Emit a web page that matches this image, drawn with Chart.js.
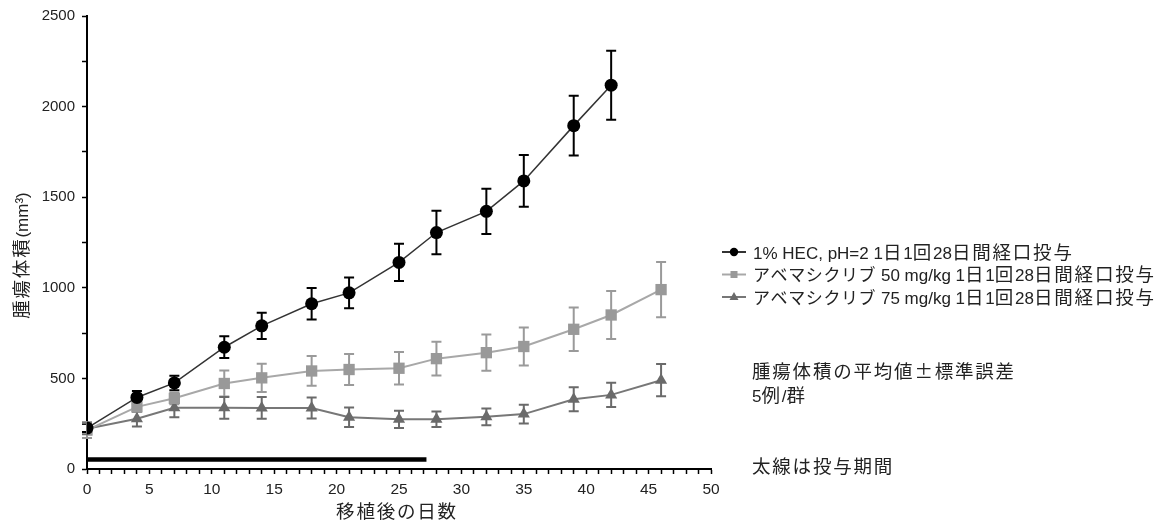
<!DOCTYPE html>
<html>
<head>
<meta charset="utf-8">
<script src="https://cdn.jsdelivr.net/npm/chart.js@4/dist/chart.umd.min.js"></script>
<style>
	html, body { margin: 0; padding: 0; background: #fff; overflow: hidden; }
	#wrap { position: relative; width: 1168px; height: 522px; }
</style>
</head>
<body>
<div id="wrap"><canvas id="tumor" width="1168" height="522"></canvas></div>
<script>
// 移植後の日数
const days = [0, 4, 7, 11, 14, 18, 21, 25, 28, 32, 35, 39, 42, 46];
// 腫瘍体積 平均値 / 標準誤差 (mm3)
const vehicle = [226, 395, 475, 672, 790, 912, 972, 1140, 1305, 1422, 1590, 1895, 2118];
const vehicleSem = [22, 36, 40, 60, 72, 87, 85, 103, 120, 125, 143, 165, 190];
const abema50 = [215, 343, 390, 472, 503, 541, 549, 556, 609, 642, 676, 771, 850, 990];
const abema50Sem = [44, 28, 32, 72, 78, 82, 86, 90, 93, 100, 105, 120, 133, 153];
const abema75 = [222, 277, 338, 338, 337, 337, 286, 274, 275, 288, 303, 385, 409, 490];
const abema75Sem = [30, 42, 52, 60, 60, 58, 54, 48, 43, 46, 52, 66, 67, 89];
// 投与期間 (太線)
const dosingDays = [0, 27.2];
const dosingLevel = 53;

const legendLabels = [
	'1% HEC, pH=2 1日1回28日間経口投与',
	'アベマシクリブ 50 mg/kg 1日1回28日間経口投与',
	'アベマシクリブ 75 mg/kg 1日1回28日間経口投与'
];
const noteLines = ['腫瘍体積の平均値±標準誤差', '5例/群'];
const barNote = '太線は投与期間';
const xTitle = '移植後の日数';
const yTitle = '腫瘍体積(mm³)';

const cjkFamily = '"Noto Sans CJK JP", "Noto Sans", sans-serif';
const latinFamily = '"Liberation Sans", Arial, sans-serif';

function toPoints(xs, ys) {
	return ys.map((y, i) => ({x: xs[i], y: y}));
}

// 文字種ごとにフォントと字間を切り替えて描く
function styleFor(ch) {
	if (/[\u30a0-\u30ff]/.test(ch)) return {font: '17px ' + cjkFamily, sp: 0.6};
	if (/[\u3000-\u309f\u4e00-\u9fff\uff00-\uffef\u00b1]/.test(ch)) return {font: '18.5px ' + cjkFamily, sp: 1.8};
	return {font: '17px ' + latinFamily, sp: 0};
}

function splitRuns(text) {
	const runs = [];
	for (const ch of text) {
		const s = styleFor(ch);
		const last = runs[runs.length - 1];
		if (last && last.font === s.font) last.text += ch;
		else runs.push({font: s.font, sp: s.sp, text: ch});
	}
	return runs;
}

function drawMixed(c, text, x, cy, align) {
	const runs = splitRuns(text);
	let total = 0;
	runs.forEach(function(r) {
		c.font = r.font;
		c.letterSpacing = r.sp + 'px';
		r.w = c.measureText(r.text).width;
		total += r.w;
	});
	let px = align === 'center' ? x - total / 2 : x;
	c.textAlign = 'left';
	c.textBaseline = 'alphabetic';
	runs.forEach(function(r) {
		c.font = r.font;
		c.letterSpacing = r.sp + 'px';
		c.fillText(r.text, px, cy + 6.5);
		px += r.w;
	});
	c.letterSpacing = '0px';
}

const errorBars = {
	id: 'errorBars',
	beforeDatasetsDraw(chart) {
		const c = chart.ctx;
		const xs = chart.scales.x, ys = chart.scales.y;
		chart.data.datasets.forEach(function(ds) {
			if (!ds.sem) return;
			c.save();
			c.strokeStyle = ds.errColor;
			c.lineWidth = 2;
			ds.data.forEach(function(p, i) {
				const px = xs.getPixelForValue(p.x);
				const top = ys.getPixelForValue(p.y + ds.sem[i]);
				const bot = ys.getPixelForValue(p.y - ds.sem[i]);
				c.beginPath();
				c.moveTo(px, top); c.lineTo(px, bot);
				c.moveTo(px - 5, top); c.lineTo(px + 5, top);
				c.moveTo(px - 5, bot); c.lineTo(px + 5, bot);
				c.stroke();
			});
			c.restore();
		});
	}
};

const sideText = {
	id: 'sideText',
	afterDraw(chart) {
		const c = chart.ctx;
		c.save();
		// 凡例
		const rows = [252, 274.5, 297];
		chart.data.datasets.slice(0, 3).forEach(function(ds, i) {
			const y = rows[i];
			c.strokeStyle = ds.borderColor;
			c.lineWidth = 2;
			c.beginPath(); c.moveTo(722, y); c.lineTo(746, y); c.stroke();
			c.fillStyle = ds.pointBackgroundColor;
			c.beginPath();
			if (ds.pointStyle === 'circle') {
				c.arc(734, y, 4.2, 0, Math.PI * 2);
			} else if (ds.pointStyle === 'rect') {
				c.rect(730.5, y - 3.5, 7, 7);
			} else {
				c.moveTo(734, y - 5); c.lineTo(738.5, y + 3); c.lineTo(729.5, y + 3); c.closePath();
			}
			c.fill();
			c.fillStyle = '#222';
			drawMixed(c, legendLabels[i], 753, y, 'left');
		});
		c.fillStyle = '#222';
		drawMixed(c, noteLines[0], 752, 371, 'left');
		drawMixed(c, noteLines[1], 752, 395, 'left');
		drawMixed(c, barNote, 752, 466, 'left');
		// 軸タイトル
		drawMixed(c, xTitle, 397, 511, 'center');
		c.translate(21.5, 255.5);
		c.rotate(-Math.PI / 2);
		drawMixed(c, yTitle, 0, 0, 'center');
		c.restore();
	}
};

var ctx = document.getElementById('tumor').getContext('2d');
var chart = new Chart(ctx, {
	type: 'line',
	data: {
		datasets: [
			{
				label: legendLabels[0],
				data: toPoints(days, vehicle),
				sem: vehicleSem,
				errColor: '#000',
				borderColor: '#333',
				borderWidth: 1.5,
				pointStyle: 'circle',
				pointRadius: 6.5,
				pointBackgroundColor: '#000',
				pointBorderWidth: 0,
				lineTension: 0
			},
			{
				label: legendLabels[1],
				data: toPoints(days, abema50),
				sem: abema50Sem,
				errColor: '#9a9a9a',
				borderColor: '#a8a8a8',
				borderWidth: 2,
				pointStyle: 'rect',
				pointRadius: 8,
				pointBackgroundColor: '#999',
				pointBorderWidth: 0,
				lineTension: 0
			},
			{
				label: legendLabels[2],
				data: toPoints(days, abema75),
				sem: abema75Sem,
				errColor: '#6a6a6a',
				borderColor: '#777',
				borderWidth: 2,
				pointStyle: 'triangle',
				pointRadius: 7,
				pointBackgroundColor: '#6a6a6a',
				pointBorderWidth: 0,
				lineTension: 0
			},
			{
				label: 'dosing',
				data: dosingDays.map(d => ({x: d, y: dosingLevel})),
				borderColor: '#000',
				borderWidth: 4.5,
				borderCapStyle: 'butt',
				pointRadius: 0,
				lineTension: 0
			}
		]
	},
	options: {
		responsive: false,
		animation: false,
		events: [],
		layout: {padding: {top: 16, right: 457, bottom: 0, left: 0}},
		plugins: {legend: {display: false}, tooltip: {enabled: false}},
		scales: {
			x: {
				type: 'linear',
				min: 0, max: 50,
				afterFit: function(s) { s.height = 53; },
				border: {color: '#000', width: 2},
				grid: {drawOnChartArea: false, tickLength: 5, tickWidth: 1.5, tickColor: '#000'},
				ticks: {
					stepSize: 1, autoSkip: false, maxRotation: 0, padding: 6,
					color: '#222', font: {family: latinFamily, size: 15.5},
					callback: v => v % 5 === 0 ? v : ''
				}
			},
			y: {
				min: 0, max: 2500,
				afterFit: function(s) { s.width = 87; },
				border: {color: '#000', width: 2},
				grid: {drawOnChartArea: false, tickLength: 5, tickWidth: 1.5, tickColor: '#000'},
				ticks: {
					stepSize: 250, autoSkip: false, padding: 7,
					color: '#222', font: {family: latinFamily, size: 15},
					callback: v => v % 500 === 0 ? v : ''
				}
			}
		}
	},
	plugins: [errorBars, sideText]
});
</script>
</body>
</html>
